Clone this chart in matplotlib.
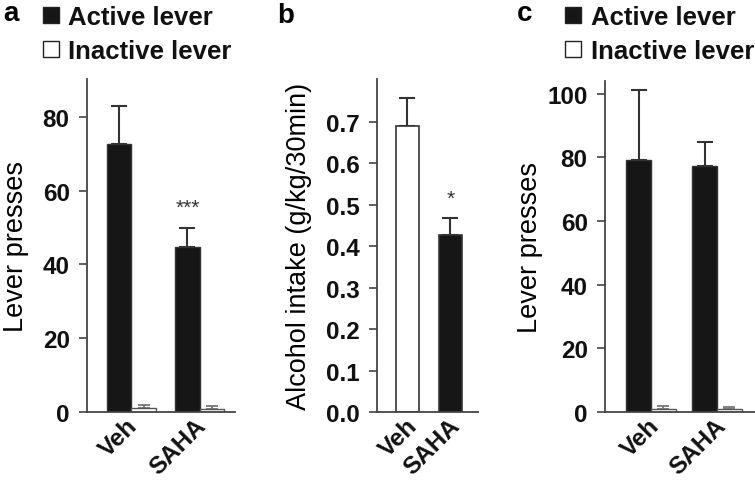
import matplotlib
matplotlib.use("Agg")
import matplotlib.pyplot as plt
import matplotlib.transforms as mtransforms
from matplotlib.patches import Rectangle
import numpy as np

plt.rcParams['font.family'] = ['Liberation Sans', 'DejaVu Sans']

groups = ["Veh", "SAHA"]
# Panel a
a_active = [72.6, 44.7]
a_active_err = [10.5, 5.2]
a_inactive = [1.0, 0.7]
a_inactive_err = [1.0, 0.8]
# Panel b
b_values = [0.691, 0.428]
b_err = [0.067, 0.041]
# Panel c
c_active = [79.2, 77.4]
c_active_err = [22.1, 7.5]
c_inactive = [1.0, 1.0]
c_inactive_err = [1.0, 0.5]

a_ticks = [0, 20, 40, 60, 80]
b_ticks = [0.0, 0.1, 0.2, 0.3, 0.4, 0.5, 0.6, 0.7]
c_ticks = [0, 20, 40, 60, 80, 100]

W, H = 755, 481
fig = plt.figure(figsize=(W / 100, H / 100), dpi=100)

BLACK = '#161616'
EDGE = '#333333'
SPINE = '#444444'
TICKFS = 17.5
XTICKFS = 17.5
LABFS = 19.5

def rect(l, r, t, b):
    return [l / W, 1 - b / H, (r - l) / W, (b - t) / H]

def style(ax, ticks, fmt):
    for s in ['top', 'right']:
        ax.spines[s].set_visible(False)
    for s in ['left', 'bottom']:
        ax.spines[s].set_color(SPINE)
        ax.spines[s].set_linewidth(1.3)
    ax.set_yticks(ticks)
    ax.set_yticklabels([fmt(t) for t in ticks], fontsize=TICKFS, fontweight='bold', color='#111111')
    ax.tick_params(axis='y', length=5.5, width=1.2, color=SPINE, pad=7)
    ax.tick_params(axis='x', length=0, pad=1)

def xlabels(ax, pos, shift_px):
    ax.set_xticks(pos)
    ax.set_xticklabels(groups, rotation=45, ha='right', rotation_mode='anchor',
                       fontsize=XTICKFS, fontweight='bold', color='#111111')
    off = mtransforms.ScaledTranslation(shift_px / 100, 0, fig.dpi_scale_trans)
    for lab in ax.get_xticklabels():
        lab.set_transform(lab.get_transform() + off)

def paired(ax, act, act_e, ina, ina_e, w):
    x = np.arange(len(groups))
    ax.bar(x - w / 2, act, w, color=BLACK, edgecolor=EDGE, linewidth=1.0, zorder=2)
    ax.errorbar(x - w / 2, act, yerr=[np.zeros(2), act_e], fmt='none', ecolor='#333333',
                elinewidth=1.5, capsize=6, capthick=1.5, zorder=1)
    ax.bar(x + w / 2, ina, w, color='white', edgecolor='#555555', linewidth=1.0, zorder=2)
    ax.errorbar(x + w / 2, ina, yerr=[np.zeros(2), ina_e], fmt='none', ecolor='#777777',
                elinewidth=1.3, capsize=4, capthick=1.3, zorder=1)
    return x

# Panel a
axa = fig.add_axes(rect(87, 235, 80, 413))
xa = paired(axa, a_active, a_active_err, a_inactive, a_inactive_err, 0.36)
axa.set_xlim(-0.647, 1.515)
axa.set_ylim(0, 90.3)
style(axa, a_ticks, lambda t: f"{t:d}")
xlabels(axa, xa, -6)
axa.set_ylabel("Lever presses", fontsize=LABFS, labelpad=10)
axa.text(xa[1] - 0.18, a_active[1] + a_active_err[1] + 3, "***", ha='center', va='bottom',
         fontsize=15, color='#333333')

# Panel b
axb = fig.add_axes(rect(377, 478, 80, 413))
xb = np.arange(len(groups))
wb = 0.535
axb.bar(xb, b_values, wb, color=['white', BLACK], edgecolor=EDGE, linewidth=1.2, zorder=2)
axb.errorbar(xb, b_values, yerr=[np.zeros(2), b_err], fmt='none', ecolor='#333333',
             elinewidth=1.5, capsize=6, capthick=1.5, zorder=1)
axb.set_xlim(-0.709, 1.64)
axb.set_ylim(0, 0.804)
style(axb, b_ticks, lambda t: f"{t:.1f}")
xlabels(axb, xb, -2)
axb.set_ylabel("Alcohol intake (g/kg/30min)", fontsize=LABFS, labelpad=10)
axb.text(xb[1], b_values[1] + b_err[1] + 0.025, "*", ha='center', va='bottom',
         fontsize=15, color='#333333')

# Panel c
axc = fig.add_axes(rect(605, 755, 82, 413))
xc = paired(axc, c_active, c_active_err, c_inactive, c_inactive_err, 0.375)
axc.set_xlim(-0.697, 1.576)
axc.set_ylim(0, 104)
style(axc, c_ticks, lambda t: f"{t:d}")
xlabels(axc, xc, -3)
axc.set_ylabel("Lever presses", fontsize=LABFS, labelpad=3)

# Panel letters
fig.text(3 / W, 1 - 21 / H, "a", fontsize=20, fontweight='bold', va='baseline', ha='left')
fig.text(277 / W, 1 - 23 / H, "b", fontsize=20, fontweight='bold', va='baseline', ha='left')
fig.text(517 / W, 1 - 21 / H, "c", fontsize=20, fontweight='bold', va='baseline', ha='left')

# Legends
def legend(x0, xtext):
    for top, base, fc, lab in [(8, 25, BLACK, "Active lever"), (42, 59, 'white', "Inactive lever")]:
        fig.patches.append(Rectangle((x0 / W, 1 - (top + 16) / H), 16 / W, 16 / H,
                                     facecolor=fc, edgecolor='#222222', linewidth=1.0,
                                     transform=fig.transFigure, figure=fig))
        fig.text(xtext / W, 1 - base / H, lab, fontsize=18.5, fontweight='bold',
                 va='baseline', ha='left', color='#111111')

legend(43, 68)
legend(565, 591)

fig.savefig("out.png", dpi=100)
